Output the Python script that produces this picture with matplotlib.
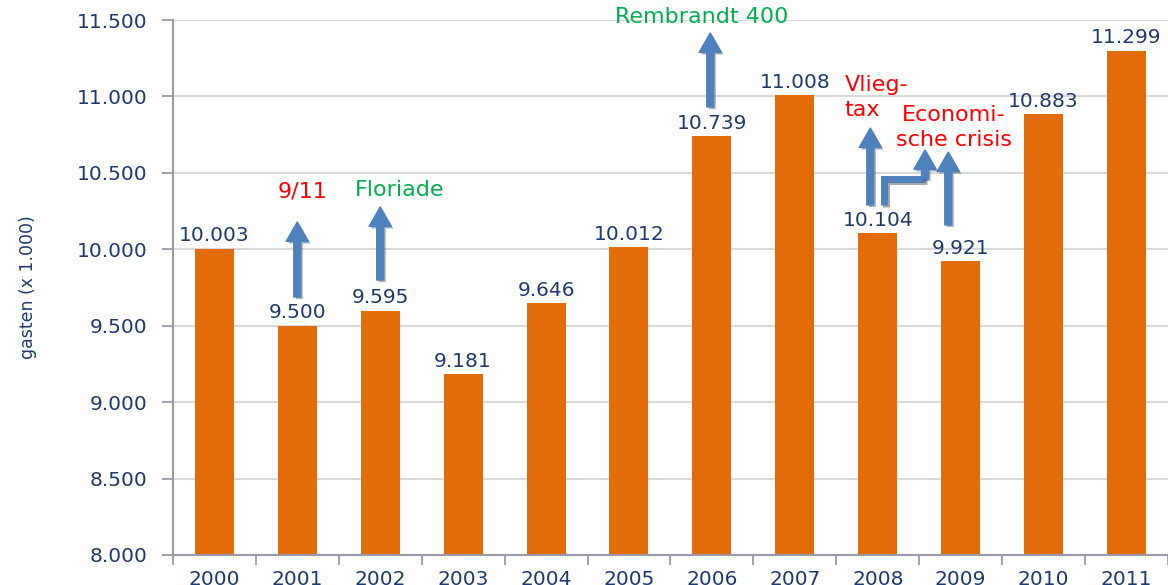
import matplotlib
matplotlib.use("Agg")
import matplotlib.pyplot as plt
from matplotlib.ticker import FuncFormatter, FixedLocator
import matplotlib.patheffects as pe

years = ["2000", "2001", "2002", "2003", "2004", "2005",
         "2006", "2007", "2008", "2009", "2010", "2011"]
guests = [10003, 9500, 9595, 9181, 9646, 10012,
          10739, 11008, 10104, 9921, 10883, 11299]
yticks = [8000, 8500, 9000, 9500, 10000, 10500, 11000, 11500]

# event annotations: (text, colour, text x, text y, ha)
events = [
    ("9/11", "#FF0000", 1.06, 10375, "center"),
    ("Floriade", "#00B050", 2.24, 10388, "center"),
    ("Rembrandt 400", "#00B050", 5.88, 11520, "center"),
    ("Vlieg-\ntax", "#FF0000", 7.60, 10995, "left"),
    ("Economi-\nsche crisis", "#FF0000", 8.92, 10797, "center"),
]
# straight arrows: (x, y start, y end)
arrows = [
    (1.0, 9688, 10179),
    (2.0, 9799, 10277),
    (5.98, 10931, 11415),
    (7.91, 10290, 10793),
    (8.85, 10159, 10636),
]
# elbow arrow: polyline part then arrow head part
elbow_line = ([8.08, 8.08, 8.57], [10290, 10460, 10460])
elbow_arrow = (8.57, 10460, 10650)

orange = "#E36C0A"
navy = "#1F3A6E"
blue = "#4F81BD"

fig = plt.figure(figsize=(11.68, 5.85), dpi=100)
ax = fig.add_axes([0.148, 0.0513, 0.852, 0.9145])

x = list(range(len(years)))
bars = ax.bar(x, [g - 8000 for g in guests], bottom=8000, width=0.47,
              color=orange, zorder=3)

for xi, g in zip(x, guests):
    ax.annotate(f"{g:,}".replace(",", "."), (xi, g), xytext=(0, 9.5),
                textcoords="offset points", ha="center", va="center",
                fontsize=14.5, color=navy, zorder=5)

ax.set_xlim(-0.5, len(years) - 0.5)
ax.set_ylim(8000, 11500)
ax.set_yticks(yticks)
ax.yaxis.set_major_formatter(FuncFormatter(lambda v, p: f"{v:,.0f}".replace(",", ".")))
ax.set_xticks(x)
ax.set_xticklabels(years)
ax.xaxis.set_minor_locator(FixedLocator([i - 0.5 for i in range(len(years) + 1)]))
ax.tick_params(axis="x", which="major", length=0, pad=11, labelsize=14.5, labelcolor=navy)
ax.tick_params(axis="x", which="minor", length=7, width=1.3, color="#9A9AAA")
ax.tick_params(axis="y", length=8, width=1.3, color="#9A9AAA", pad=10,
               labelsize=14.5, labelcolor=navy)

ax.grid(axis="y", color="#D9D9D9", linewidth=1.5, zorder=0)
for s in ["top", "right"]:
    ax.spines[s].set_visible(False)
for s in ["left", "bottom"]:
    ax.spines[s].set_color("#9A9AAA")
    ax.spines[s].set_linewidth(1.5)
    ax.spines[s].set_zorder(4)

ax.set_ylabel("gasten (x 1.000)", fontsize=12.5, color=navy)
ax.yaxis.set_label_coords(-0.137, 0.5)

shadow = [pe.SimplePatchShadow(offset=(1.5, -1.5), alpha=0.35), pe.Normal()]
astyle = "simple,head_length=14,head_width=16,tail_width=5"

def draw_arrow(xa, y0, y1):
    ann = ax.annotate("", xy=(xa, y1), xytext=(xa, y0),
                      arrowprops=dict(arrowstyle=astyle, mutation_scale=1,
                                      color=blue, shrinkA=0, shrinkB=0),
                      zorder=6, annotation_clip=False)
    ann.arrow_patch.set_path_effects(shadow)

for xa, y0, y1 in arrows:
    draw_arrow(xa, y0, y1)

ax.plot(elbow_line[0], elbow_line[1], color=blue, linewidth=5,
        solid_joinstyle="miter", solid_capstyle="butt", zorder=6,
        path_effects=[pe.SimpleLineShadow(offset=(1.5, -1.5), alpha=0.35), pe.Normal()])
draw_arrow(*elbow_arrow)

for txt, col, tx, ty, ha in events:
    ax.text(tx, ty, txt, color=col, fontsize=16, ha=ha, va="center",
            linespacing=1.3, zorder=7, clip_on=False)

fig.savefig("out.png", dpi=100)
